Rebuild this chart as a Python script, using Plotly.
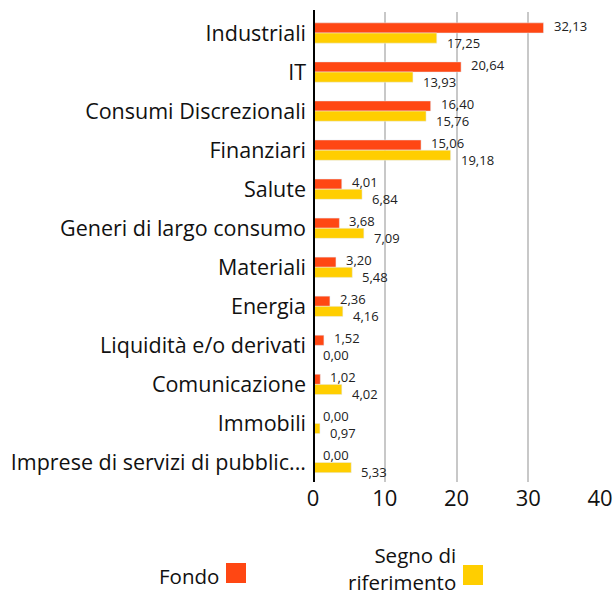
import plotly.graph_objects as go

categories = ["Industriali", "IT", "Consumi Discrezionali", "Finanziari", "Salute",
              "Generi di largo consumo", "Materiali", "Energia", "Liquidità e/o derivati",
              "Comunicazione", "Immobili", "Imprese di servizi di pubblic..."]
fondo = [32.13, 20.64, 16.40, 15.06, 4.01, 3.68, 3.20, 2.36, 1.52, 1.02, 0.00, 0.00]
riferimento = [17.25, 13.93, 15.76, 19.18, 6.84, 7.09, 5.48, 4.16, 0.00, 4.02, 0.97, 5.33]
x_ticks = [0, 10, 20, 30, 40]
series_names = ["Fondo", "Segno di riferimento"]

RED = "#FF4713"
YEL = "#FFCE00"
FONT = "Open Sans"
W, H = 614, 598
L, R, T, B = 313, 14, 12, 116
PW, PH = W - L - R, H - T - B

def px(x):
    return (x - L) / PW

def py(y):
    return (H - B - y) / PH

def fmt(v):
    return f"{v:.2f}".replace(".", ",")

fig = go.Figure()
fig.add_trace(go.Bar(y=categories, x=fondo, orientation="h", name=series_names[0],
                     marker_color=RED, showlegend=False, hoverinfo="skip"))
fig.add_trace(go.Bar(y=categories, x=riferimento, orientation="h", name=series_names[1],
                     marker_color=YEL, showlegend=False, hoverinfo="skip"))

annotations = []
for c, v in zip(categories, fondo):
    annotations.append(dict(x=v, y=c, xref="x", yref="y", text=fmt(v), showarrow=False,
                            xanchor="left", xshift=8, yshift=7,
                            font=dict(family=FONT, size=13, color="#222")))
for c, v in zip(categories, riferimento):
    annotations.append(dict(x=v, y=c, xref="x", yref="y", text=fmt(v), showarrow=False,
                            xanchor="left", xshift=8, yshift=-10,
                            font=dict(family=FONT, size=13, color="#222")))

# custom legend (text left of swatch)
leg_font = dict(family=FONT, size=20.5, color="#111")
annotations.append(dict(x=px(221), y=py(576), xref="paper", yref="paper", text=series_names[0],
                        showarrow=False, xanchor="right", yanchor="middle", font=leg_font))
annotations.append(dict(x=px(457), y=py(597), xref="paper", yref="paper",
                        text="Segno di<br>riferimento", align="right", borderpad=0,
                        showarrow=False, xanchor="right", yanchor="bottom", font=leg_font))
shapes = [
    dict(type="rect", xref="paper", yref="paper", x0=px(226), x1=px(246), y0=py(583), y1=py(563),
         fillcolor=RED, line_width=0),
    dict(type="rect", xref="paper", yref="paper", x0=px(463), x1=px(483), y0=py(585), y1=py(565),
         fillcolor=YEL, line_width=0),
    dict(type="line", xref="x", yref="paper", x0=0, x1=0, y0=py(482), y1=py(10),
         line=dict(color="black", width=4)),
]

fig.update_layout(
    width=W, height=H,
    margin=dict(l=L, r=R, t=T, b=B, autoexpand=False),
    barmode="group", bargap=0.48, bargroupgap=0,
    plot_bgcolor="white", paper_bgcolor="white",
    font=dict(family=FONT, color="#111"),
    xaxis=dict(range=[0, 40], tickvals=x_ticks, ticktext=[str(t) for t in x_ticks],
               showgrid=True, gridcolor="#c8c8c8", gridwidth=2, zeroline=False, automargin=False,
               showline=False, tickfont=dict(size=22, color="#111"), ticks="", ticklabelstandoff=1),
    yaxis=dict(autorange="reversed", showgrid=False, zeroline=False, showline=False, automargin=False,
               tickfont=dict(size=21.5, color="#111"), ticks="", ticklabelstandoff=6),
    annotations=annotations, shapes=shapes,
)

fig.write_html("out.html", config={"displayModeBar": False},
               post_script="document.body.style.margin='0';document.body.style.overflow='hidden';")
